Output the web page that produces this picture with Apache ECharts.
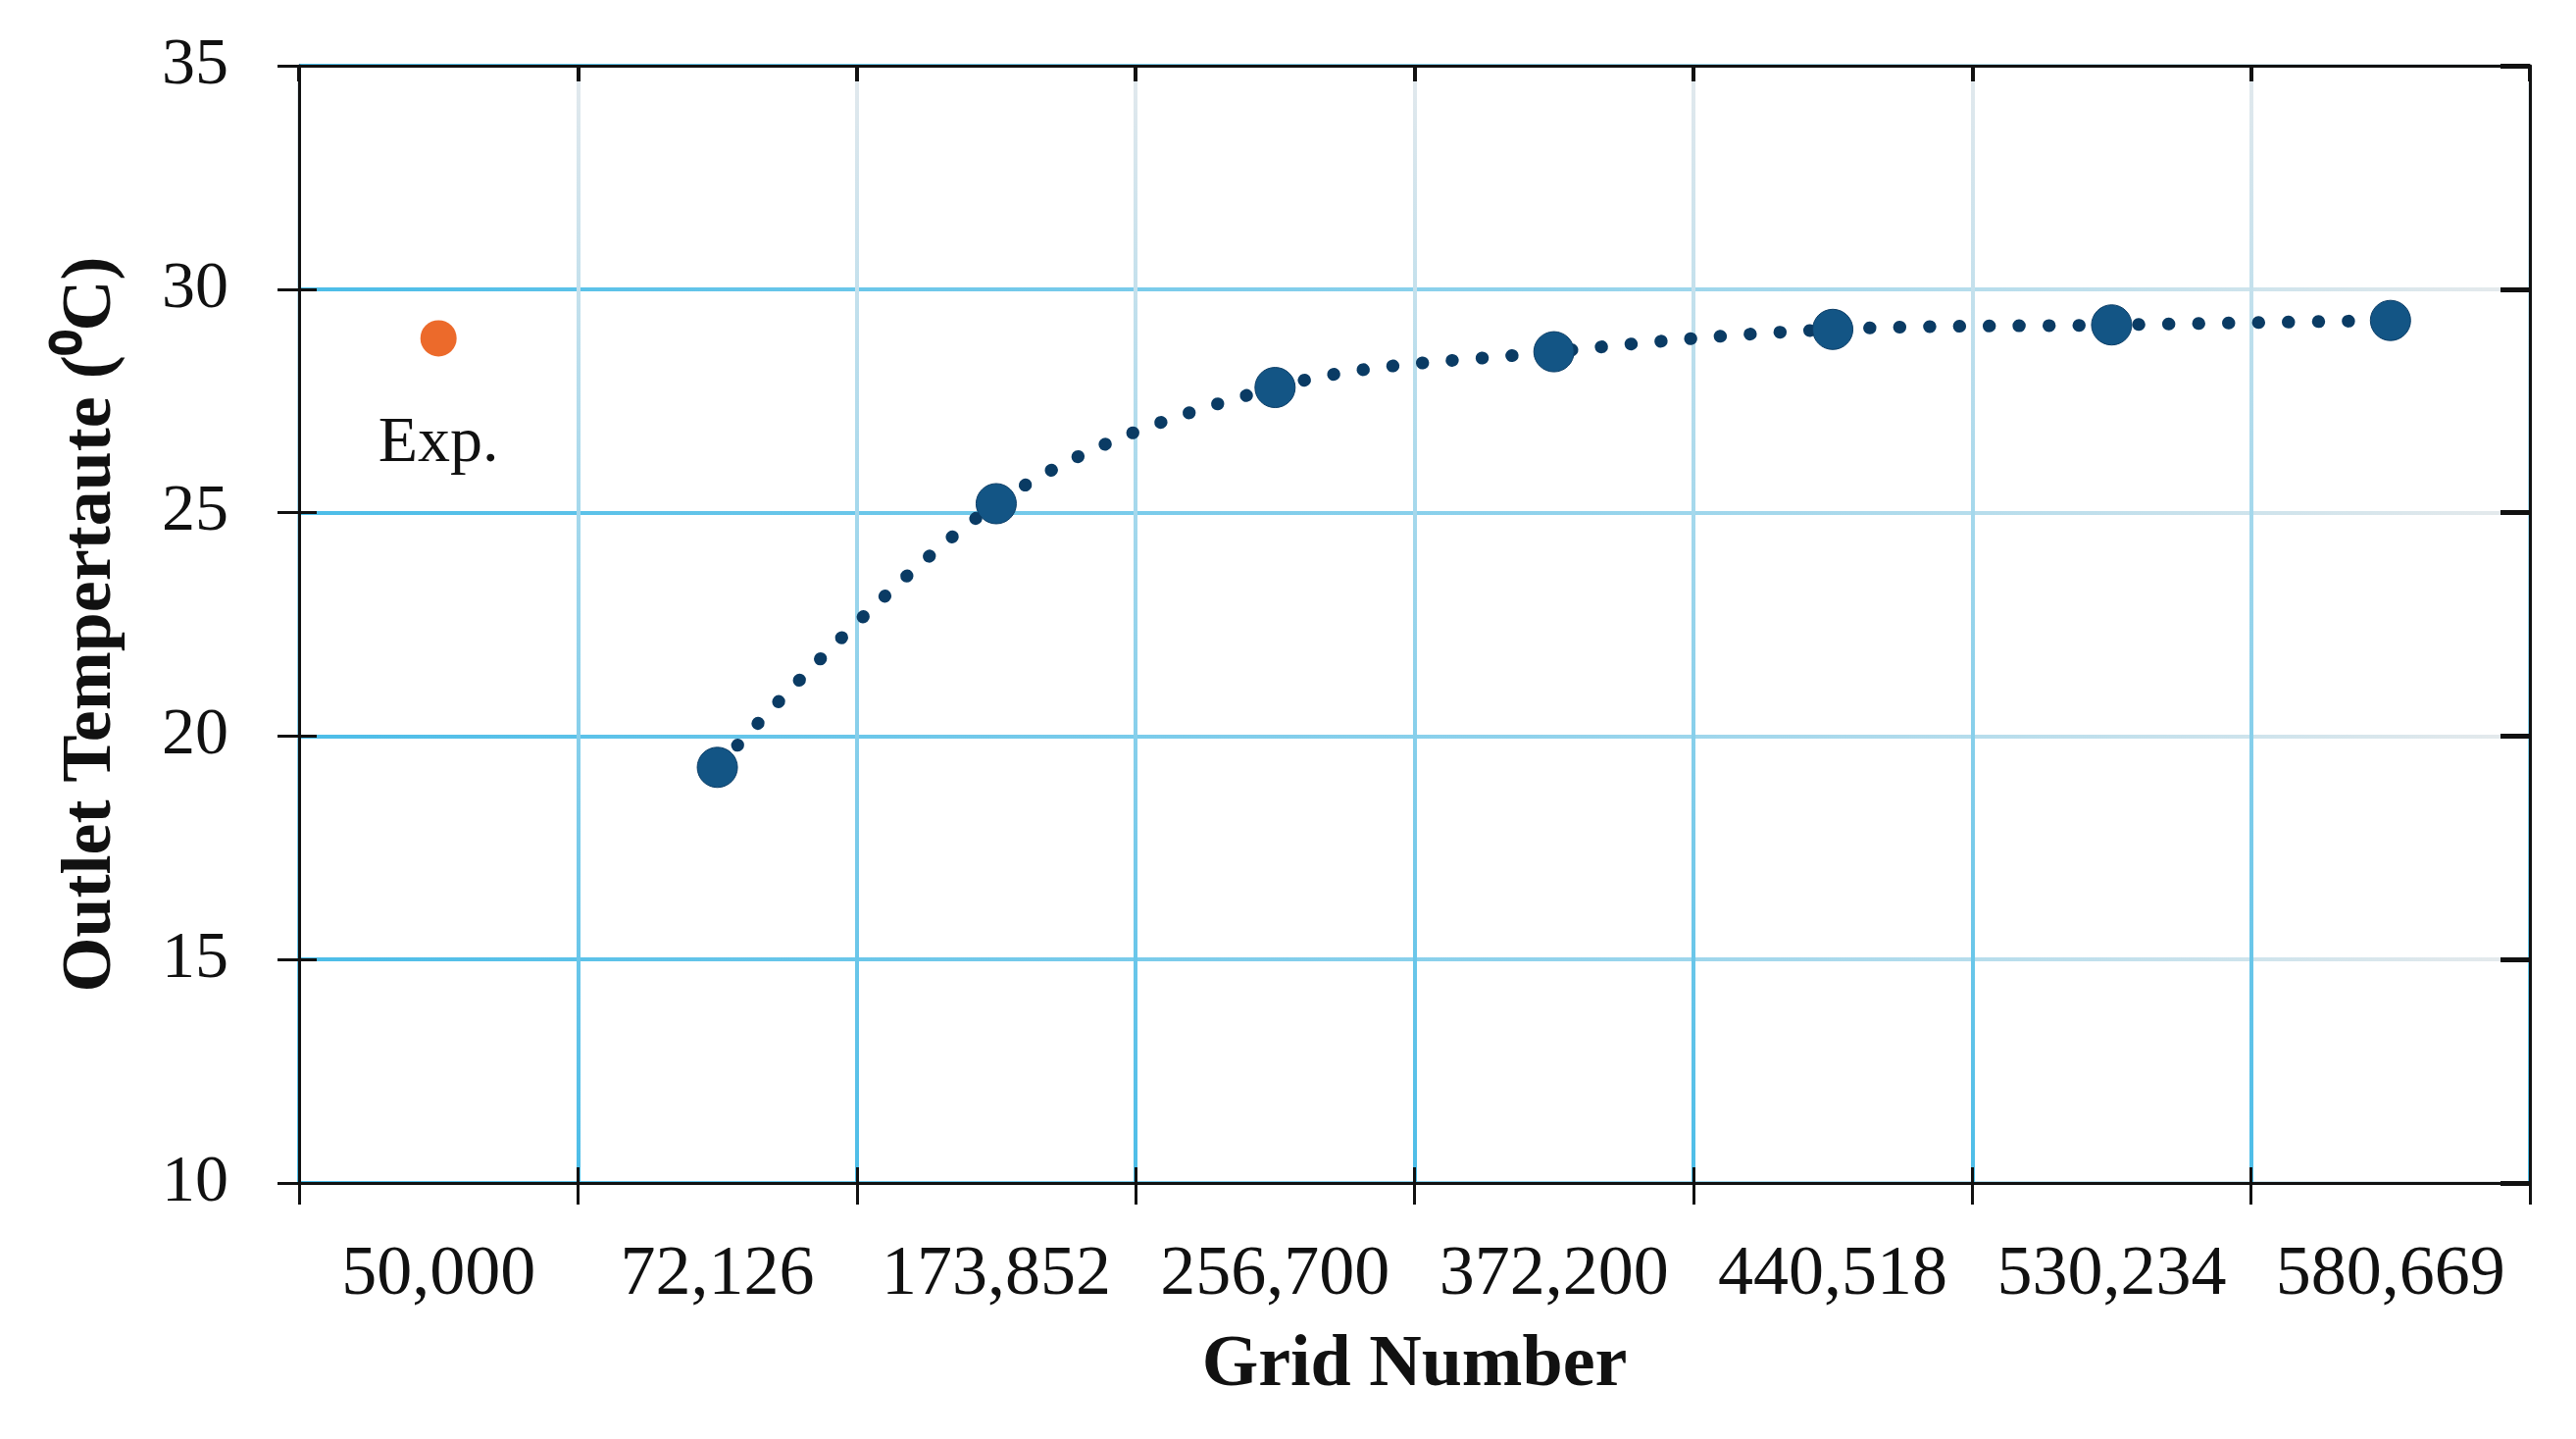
<!DOCTYPE html>
<html>
<head>
<meta charset="utf-8">
<script src="https://cdn.jsdelivr.net/npm/echarts@6/dist/echarts.min.js"></script>
<style>
html,body{margin:0;padding:0;background:#fff;}
#chart{width:2627px;height:1467px;}
</style>
</head>
<body>
<div id="chart"></div>
<script>
const categories = ['50,000','72,126','173,852','256,700','372,200','440,518','530,234','580,669'];
const simValues = ['-', 19.3, 25.2, 27.8, 28.6, 29.1, 29.2, 29.3];
const expValues = [28.9, '-', '-', '-', '-', '-', '-', '-'];
const yTicks = {min: 10, max: 35, interval: 5};
const xTitle = 'Grid Number';
const yTitle = 'Outlet Tempertaute (\u2070C)';
const expLabel = 'Exp.';

const G = {left: 305, right: 47, top: 67, bottom: 261};
const W = 2627, H = 1467;
const plotL = G.left, plotR = W - G.right, plotT = G.top, plotB = H - G.bottom;

const font = 'Liberation Serif';
const hGrad = new echarts.graphic.LinearGradient(plotL, 0, plotR, 0, [
  {offset: 0, color: '#4cbde8'}, {offset: 0.55, color: '#8fd2ec'}, {offset: 1, color: '#e6eaec'}
], true);
const vGrad = new echarts.graphic.LinearGradient(0, plotB, 0, plotT, [
  {offset: 0, color: '#4cbde8'}, {offset: 0.55, color: '#9dd6ec'}, {offset: 1, color: '#e3e9ed'}
], true);

const chart = echarts.init(document.getElementById('chart'));
chart.setOption({
  backgroundColor: '#fff',
  animation: false,
  grid: G,
  xAxis: [
    {
      type: 'category', data: categories, position: 'bottom', boundaryGap: true,
      axisLine: {show: true, lineStyle: {color: '#111', width: 3}},
      axisTick: {show: true, inside: false, length: 22, interval: 0, lineStyle: {color: '#111', width: 3}},
      axisLabel: {fontFamily: font, fontSize: 72, color: '#111', margin: 58, interval: 0},
      splitLine: {show: true, interval: 0, lineStyle: {color: vGrad, width: 4}},
      name: xTitle, nameLocation: 'middle', nameGap: 150,
      nameTextStyle: {fontFamily: font, fontWeight: 'bold', fontSize: 74, color: '#111'}
    },
    {
      type: 'category', data: categories, position: 'top', boundaryGap: true,
      axisLine: {show: true, lineStyle: {color: '#111', width: 3}},
      axisTick: {show: true, inside: true, length: 16, interval: 0, lineStyle: {color: '#111', width: 4}},
      axisLabel: {show: false}, splitLine: {show: false}
    },
    {
      type: 'category', data: categories, position: 'bottom', boundaryGap: true,
      axisLine: {show: false},
      axisTick: {show: true, inside: true, length: 16, interval: 0, lineStyle: {color: '#111', width: 3}},
      axisLabel: {show: false}, splitLine: {show: false}
    }
  ],
  yAxis: [
    {
      type: 'value', min: yTicks.min, max: yTicks.max, interval: yTicks.interval, position: 'left',
      axisLine: {show: true, lineStyle: {color: '#111', width: 3}},
      axisTick: {show: true, inside: false, length: 22, lineStyle: {color: '#111', width: 3}},
      axisLabel: {fontFamily: font, fontSize: 68, color: '#111', margin: 72},
      splitLine: {show: true, lineStyle: {color: hGrad, width: 4}},
      name: yTitle, nameLocation: 'middle', nameGap: 176, nameRotate: 90,
      nameTextStyle: {fontFamily: font, fontWeight: 'bold', fontSize: 72, color: '#111'}
    },
    {
      type: 'value', min: yTicks.min, max: yTicks.max, interval: yTicks.interval, position: 'right',
      axisLine: {show: true, lineStyle: {color: '#111', width: 3}},
      axisTick: {show: true, inside: true, length: 30, lineStyle: {color: '#111', width: 5}},
      axisLabel: {show: false}, splitLine: {show: false}
    },
    {
      type: 'value', min: yTicks.min, max: yTicks.max, interval: yTicks.interval, position: 'left',
      axisLine: {show: false},
      axisTick: {show: true, inside: true, length: 18, lineStyle: {color: '#111', width: 3}},
      axisLabel: {show: false}, splitLine: {show: false}
    }
  ],
  series: [
    {
      name: 'Simulation', type: 'line', data: simValues, smooth: 0.35,
      xAxisIndex: 0, yAxisIndex: 0,
      symbol: 'circle', symbolSize: 41,
      itemStyle: {color: '#135585', borderColor: '#0b3d66', borderWidth: 1},
      lineStyle: {color: '#0a3b64', width: 13, type: [0.5, 30], cap: 'round'},
      z: 5
    },
    {
      name: 'Exp', type: 'line', data: expValues,
      xAxisIndex: 0, yAxisIndex: 0,
      symbol: 'circle', symbolSize: 37,
      itemStyle: {color: '#ec6a2b'},
      lineStyle: {width: 0},
      label: {show: true, position: 'bottom', distance: 56, formatter: expLabel,
        fontFamily: font, fontSize: 66, color: '#111'},
      z: 6
    }
  ]
});
</script>
</body>
</html>
